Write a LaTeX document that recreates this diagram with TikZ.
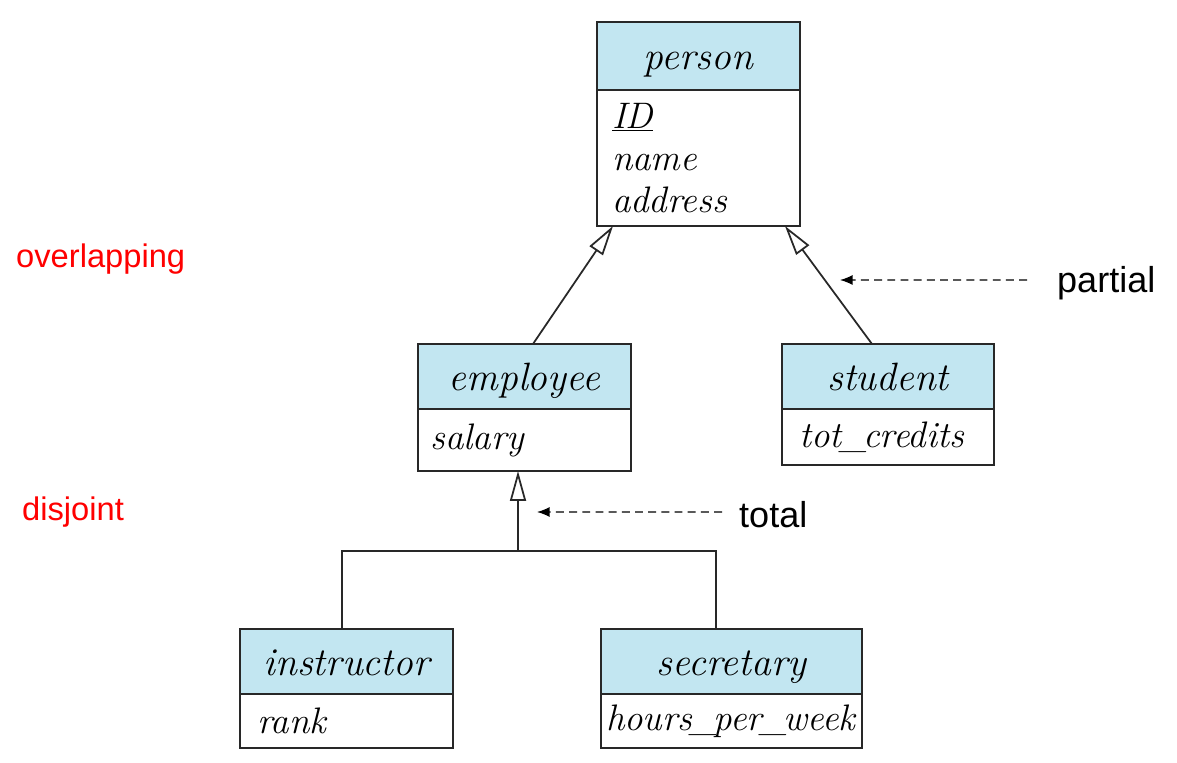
\documentclass[tikz,border=0pt]{standalone}
\usepackage{fontspec}
\usepackage{tikz}
\usetikzlibrary{arrows.meta,calc}
\newfontfamily\labelfont{Liberation Sans}
\definecolor{headblue}{RGB}{194,230,241}
\definecolor{boxline}{RGB}{40,40,40}
\newcommand\usc{\kern-0.05em\_\kern-0.1em}
\tikzset{
  head/.style={draw=boxline, line width=1.1pt, fill=headblue, anchor=north west, inner sep=0pt,
    outer sep=0pt, minimum height=1.3cm, text height=0.56cm, text depth=0pt,
    font=\fontsize{22.5}{26}\selectfont\itshape},
  attrs/.style={draw=boxline, line width=1.1pt, fill=white, anchor=north west, inner ysep=0pt,
    outer sep=0pt, inner xsep=0.3cm, align=left, font=\fontsize{21}{24}\selectfont\itshape},
  isa/.style={line width=1pt, draw=boxline, -{Triangle[open,length=0.6cm,width=0.32cm]}},
  note/.style={font=\fontsize{20.5}{24}\selectfont\labelfont},
  cond/.style={font=\fontsize{18.6}{22}\selectfont\labelfont, text=red},
  hint/.style={dashed, dash pattern=on 4.5pt off 3pt, line width=0.8pt, -{Latex[length=0.25cm,width=0.2cm]}}
}
\begin{document}
\begin{tikzpicture}[x=0.02cm,y=-0.02cm]
  \useasboundingbox (0,0) rectangle (1177,763);
  % person
  \node[head, minimum width=4.06cm, minimum height=1.36cm] (person) at (597,22) {person};
  \node[attrs, minimum width=4.06cm, minimum height=2.72cm, text width=3.46cm] (personattr) at (person.south west) {\underline{ID}\\name\\address};
  % employee and student
  \node[head, minimum width=4.26cm] (employee) at (418,344) {employee};
  \node[attrs, minimum width=4.26cm, minimum height=1.24cm, inner xsep=0.25cm, text width=3.76cm] (employeeattr) at (employee.south west) {salary};
  \node[head, minimum width=4.24cm] (student) at (782,344) {student};
  \node[attrs, minimum width=4.24cm, minimum height=1.12cm, inner xsep=0.35cm, text width=3.54cm] (studentattr) at (student.south west) {tot\usc credits};
  % instructor and secretary
  \node[head, minimum width=4.26cm] (instructor) at (240,629) {instructor};
  \node[attrs, minimum width=4.26cm, minimum height=1.08cm, inner xsep=0.35cm, text width=3.56cm] (instructorattr) at (instructor.south west) {rank};
  \node[head, minimum width=5.22cm] (secretary) at (601,629) {secretary};
  \node[attrs, minimum width=5.22cm, minimum height=1.08cm, inner xsep=0.1cm, text width=5.02cm] (secretaryattr) at (secretary.south west) {hours\usc per\usc week};

  % generalisation of person
  \draw[isa] ([xshift=0.17cm]employee.north) -- ([xshift=0.32cm]personattr.south west);
  \draw[isa] ([xshift=-0.32cm]student.north) -- ([xshift=-0.3cm]personattr.south east);
  % generalisation of employee
  \coordinate (split) at (518,551);
  \draw[isa] (split) -- (split |- employeeattr.south);
  \draw[line width=1pt, draw=boxline] ([xshift=-0.09cm]instructor.north) |- (split) -| ([xshift=-0.31cm]secretary.north);

  % constraint labels
  \node[note, anchor=west] (partial) at (1051,283) {partial};
  \coordinate (partialtip) at (840,280);
  \draw[hint] ([xshift=-0.48cm,yshift=0.06cm]partial.west) -- (partialtip);
  \node[note, anchor=west] (total) at (733,515) {total};
  \coordinate (totaltip) at (537,512);
  \draw[hint] ([xshift=-0.22cm,yshift=0.06cm]total.west) -- (totaltip);
  \node[cond, anchor=west] (overlapping) at (10,259) {overlapping};
  \node[cond, anchor=west] (disjoint) at (16,512) {disjoint};
\end{tikzpicture}
\end{document}
